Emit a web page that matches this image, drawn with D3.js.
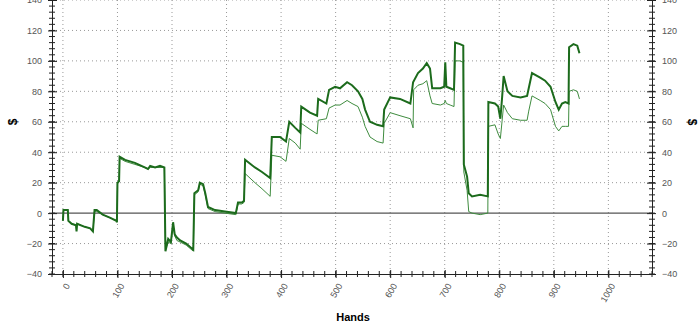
<!DOCTYPE html>
<html>
<head>
<meta charset="utf-8">
<script src="https://cdn.jsdelivr.net/npm/d3@7"></script>
<style>
  body { margin: 0; background: #fff; }
  svg { display: block; font-family: "Liberation Sans", Arial, sans-serif; }
  .tick text { fill: #555; font-size: 9px; }
  .axis path, .axis line { stroke: #222; }
  .grid line { stroke: #999; stroke-dasharray: 1,3; }
</style>
</head>
<body>
<svg width="700" height="327"></svg>
<script>
// hand number / cumulative won ($), thick line (net won)
const netHands = [0, 1, 9, 10, 16, 24, 25, 26, 40, 50, 55, 58, 62, 73, 86, 98, 99, 100, 103, 104,
  114, 132, 150, 156, 160, 169, 178, 186, 188, 193, 198, 202, 205, 209, 215, 226, 239, 241, 248, 251,
  257, 261, 266, 279, 297, 317, 321, 328, 332, 334, 352, 365, 380, 383, 398, 409, 415, 426, 435, 437,
  453, 466, 468, 483, 488, 499, 508, 521, 530, 541, 549, 554, 563, 576, 587, 589, 600, 618, 637, 642,
  651, 660, 667, 673, 677, 692, 699, 701, 703, 710, 717, 719, 728, 734, 735, 741, 744, 750, 765, 779,
  780, 792, 798, 802, 805, 808, 815, 824, 839, 851, 854, 860, 875, 884, 894, 903, 909, 915, 921, 927,
  928, 936, 943, 947];
const netWon = [-5, 2, 2, -5, -7, -8, -12, -7, -9, -10, -12, 2, 2, -1, -3, -5, -6, 20, 21, 37,
  35, 33, 30, 29, 31, 30, 31, 30, -25, -17, -19, -6, -14, -16, -18, -20, -24, 13, 15, 20,
  19, 13, 4, 2, 1, 0, 7, 7, 8, 35, 30, 27, 23, 50, 50, 47, 60, 56, 53, 70,
  66, 64, 75, 72, 81, 83, 82, 86, 84, 80, 75, 68, 60, 58, 57, 68, 76, 75, 72, 86,
  92, 95, 98.5, 95, 82, 82, 83, 99, 83, 82, 81, 112, 111, 110, 32, 24, 13, 11, 12, 11,
  73, 72, 70, 62, 75, 90, 80, 77, 76, 77, 82, 92, 89, 87, 83, 73, 68, 72, 73, 72,
  109, 111, 110, 105];

// thin line (all-in adjusted)
const adjHands = [0, 1, 9, 10, 16, 24, 25, 26, 40, 50, 55, 58, 62, 73, 86, 98, 99, 100, 103, 104,
  114, 132, 150, 156, 160, 169, 178, 186, 188, 193, 198, 202, 205, 209, 215, 226, 239, 241, 248, 251,
  257, 261, 266, 279, 297, 317, 321, 328, 332, 334, 352, 365, 380, 383, 398, 409, 415, 426, 435, 437,
  453, 466, 468, 483, 488, 499, 508, 521, 530, 541, 549, 554, 563, 576, 587, 589, 600, 618, 637, 642,
  643, 651, 660, 667, 673, 677, 692, 699, 701, 703, 710, 717, 719, 728, 734, 735, 741, 744, 750, 765,
  779, 780, 792, 798, 802, 805, 808, 815, 824, 839, 851, 854, 860, 875, 884, 894, 903, 909, 915, 921,
  927, 928, 936, 943, 947];
const adjWon = [-5, 2, 2, -5, -7, -8, -11, -7, -9, -10, -12, 1, 1, -1, -3, -5, -6, 19, 21, 36,
  34, 32, 30, 29, 30, 30, 30, 30, -24, -19, -20, -8, -15, -18, -19, -21, -25, 12, 14, 19,
  18, 12, 3, 1, 0, -1, 6, 6, 7, 26, 20, 16, 11, 38, 37, 34, 49, 46, 42, 59,
  55, 52, 61, 62, 69, 71, 71, 74, 72, 70, 63, 57, 50, 47, 46, 59, 66, 64, 62, 56,
  81, 84, 85, 87, 77, 72, 71, 72, 74, 72, 71, 70, 100, 100, 99, 27, 15, 1, 0, -1,
  0, 57, 58, 52, 49, 60, 71, 66, 62, 61, 61, 67, 77, 74, 72, 68, 57, 54, 57, 57,
  57, 80, 81, 80, 75];

const xTicks = d3.range(0, 1001, 100);
const xMinor = d3.range(-20, 1081, 20);
const yTicks = d3.range(-40, 141, 20);
const yMinor = d3.range(-40, 141, 4);

const svg = d3.select("svg");
const plotLeft = 52, plotRight = 652, plotTop = 0, plotBottom = 274;

const x = d3.scaleLinear().domain([-20, 1080]).range([plotLeft, plotRight]);
const y = d3.scaleLinear().domain([-40, 140]).range([plotBottom, plotTop]);

// grid
const grid = svg.append("g").attr("class", "grid");
grid.selectAll("line.h")
    .data(yTicks.filter(v => v !== 0 && v !== -40))
    .join("line")
    .attr("class", "h")
    .attr("x1", plotLeft).attr("x2", plotRight)
    .attr("y1", d => y(d)).attr("y2", d => y(d));
grid.selectAll("line.v")
    .data(xTicks)
    .join("line")
    .attr("class", "v")
    .attr("x1", d => x(d)).attr("x2", d => x(d))
    .attr("y1", plotTop).attr("y2", plotBottom);

// zero line
svg.append("line")
    .attr("x1", plotLeft).attr("x2", plotRight)
    .attr("y1", y(0)).attr("y2", y(0))
    .attr("stroke", "#555").attr("stroke-width", 1.2);

// lines
const line = d3.line().x(d => x(d[0])).y(d => y(d[1]));

svg.append("path")
    .datum(adjHands.map((h, i) => [h, adjWon[i]]))
    .attr("fill", "none")
    .attr("stroke", "#3f8c3f")
    .attr("stroke-width", 1)
    .attr("d", line);

svg.append("path")
    .datum(netHands.map((h, i) => [h, netWon[i]]))
    .attr("fill", "none")
    .attr("stroke", "#1c6b1c")
    .attr("stroke-width", 2)
    .attr("d", line);

// minor ticks, crossing the axis lines
const minor = svg.append("g").attr("stroke", "#222");
minor.selectAll("line.lm").data(yMinor).join("line")
    .attr("class", "lm")
    .attr("x1", plotLeft - 3).attr("x2", plotLeft + 3)
    .attr("y1", d => y(d)).attr("y2", d => y(d));
minor.selectAll("line.rm").data(yMinor).join("line")
    .attr("class", "rm")
    .attr("x1", plotRight - 3).attr("x2", plotRight + 3)
    .attr("y1", d => y(d)).attr("y2", d => y(d));
minor.selectAll("line.bm").data(xMinor).join("line")
    .attr("class", "bm")
    .attr("x1", d => x(d)).attr("x2", d => x(d))
    .attr("y1", plotBottom - 3).attr("y2", plotBottom + 3);

// axes
const yLeft = svg.append("g").attr("class", "axis")
    .attr("transform", `translate(${plotLeft},0)`)
    .call(d3.axisLeft(y).tickValues(yTicks).tickSize(4).tickSizeOuter(0).tickPadding(6));
yLeft.selectAll(".tick line").attr("x2", 5).attr("x1", -4);

const yRight = svg.append("g").attr("class", "axis")
    .attr("transform", `translate(${plotRight},0)`)
    .call(d3.axisRight(y).tickValues(yTicks).tickSize(4).tickSizeOuter(0).tickPadding(6));
yRight.selectAll(".tick line").attr("x1", -5).attr("x2", 4);

const xAxis = svg.append("g").attr("class", "axis")
    .attr("transform", `translate(0,${plotBottom})`)
    .call(d3.axisBottom(x).tickValues(xTicks).tickFormat(d3.format("d")).tickSize(4).tickSizeOuter(0));
xAxis.selectAll(".tick line").attr("y1", -4).attr("y2", 4);
xAxis.selectAll(".tick text")
    .attr("text-anchor", "end")
    .attr("transform", "translate(4,10) rotate(-60)")
    .attr("x", 0).attr("y", 0).attr("dy", "0.35em");

// titles
svg.append("text")
    .attr("transform", "translate(13,122) rotate(-90)")
    .attr("text-anchor", "middle").attr("dy", "0.35em")
    .attr("font-weight", "bold").attr("font-size", 12)
    .text("$");
svg.append("text")
    .attr("transform", "translate(692,122) rotate(90)")
    .attr("text-anchor", "middle").attr("dy", "0.35em")
    .attr("font-weight", "bold").attr("font-size", 12)
    .text("$");
svg.append("text")
    .attr("x", 353).attr("y", 321)
    .attr("text-anchor", "middle")
    .attr("font-weight", "bold").attr("font-size", 11)
    .text("Hands");
</script>
</body>
</html>
